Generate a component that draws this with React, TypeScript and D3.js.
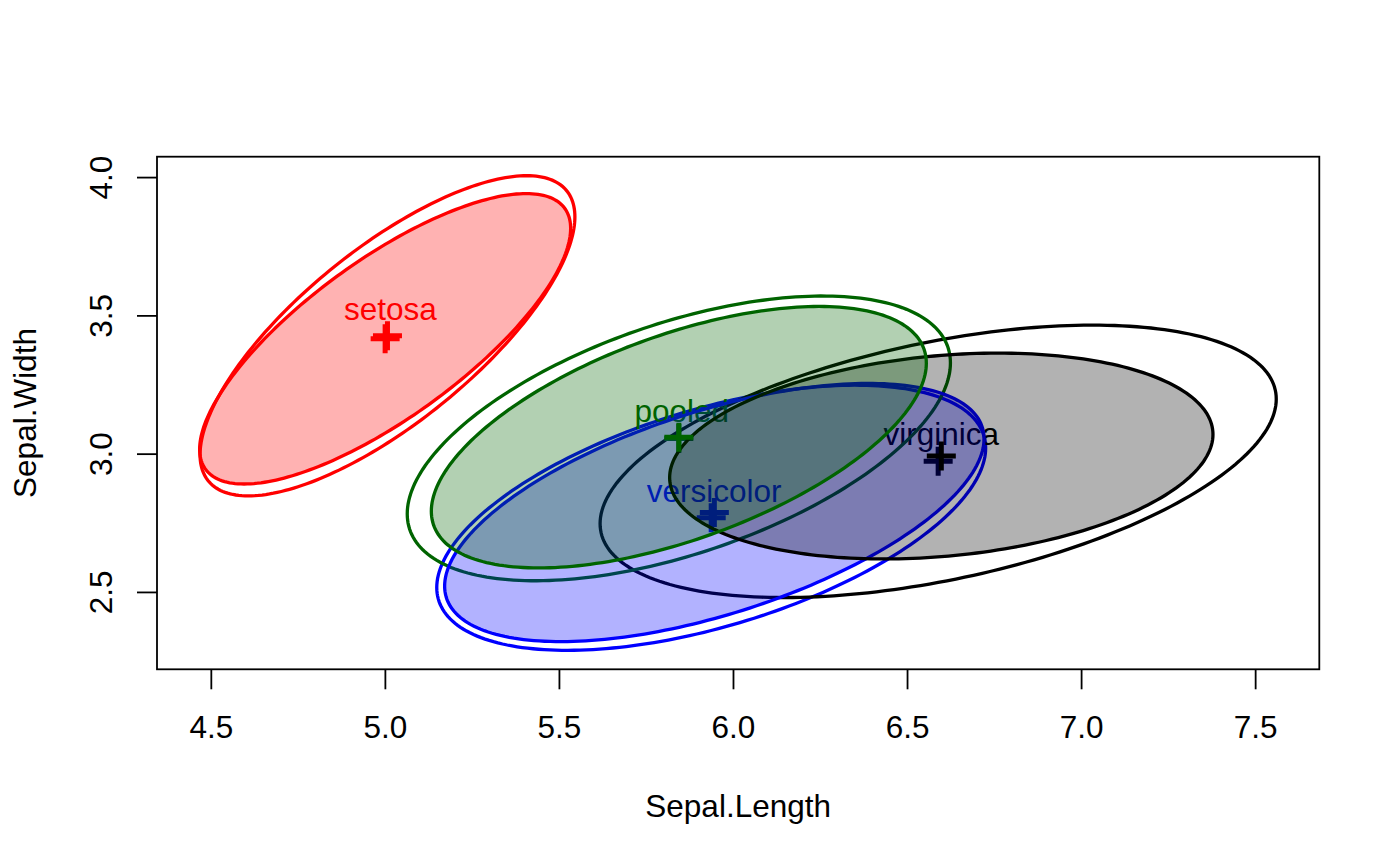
import React from "react";
import * as d3 from "d3";

// ---- data ----
const groups = ["setosa", "versicolor", "virginica", "pooled"];
const groupColors = ["#FF0000", "#0000FF", "#000000", "#006400"];

// classical covariance ellipses (unfilled, outer): centre, semi-extent in x / y, correlation
const classicalCx = [5.006, 5.936, 6.588, 5.843];
const classicalCy = [3.428, 2.77, 2.974, 3.057];
const classicalHalfX = [0.5384, 0.7884, 0.9712, 0.7802];
const classicalHalfY = [0.5789, 0.4793, 0.4925, 0.5148];
const classicalCorr = [0.7426, 0.5259, 0.4572, 0.53];

// robust ellipses (filled, inner)
const robustCx = [4.9993, 5.945, 6.597, 5.843];
const robustCy = [3.4171, 2.789, 2.9932, 3.0613];
const robustHalfX = [0.5329, 0.7748, 0.7804, 0.711];
const robustHalfY = [0.5251, 0.4668, 0.3722, 0.4727];
const robustCorr = [0.76, 0.57, 0.21, 0.566];

const xTicks = [4.5, 5.0, 5.5, 6.0, 6.5, 7.0, 7.5];
const yTicks = [2.5, 3.0, 3.5, 4.0];
const xLabel = "Sepal.Length";
const yLabel = "Sepal.Width";

// ---- layout ----
const W = 1400;
const H = 866;
const left = 157;
const right = 1319.3;
const top = 156.7;
const bottom = 669.3;
const FONT = "'Liberation Sans', Arial, Helvetica, sans-serif";
const FS = 31.5;

function ellipsePts(cx: number, cy: number, a: number, b: number, r: number) {
  const n = 240;
  const s = Math.sqrt(1 - r * r);
  return d3.range(n).map((i) => {
    const t = (i / n) * 2 * Math.PI;
    return [cx + a * Math.cos(t), cy + b * (r * Math.cos(t) + s * Math.sin(t))] as [number, number];
  });
}

export default function App() {
  // limits from classical ellipses with R's 4% expansion
  const xmin = d3.min(classicalCx.map((c, i) => c - classicalHalfX[i]))!;
  const xmax = d3.max(classicalCx.map((c, i) => c + classicalHalfX[i]))!;
  const ymin = d3.min(classicalCy.map((c, i) => c - classicalHalfY[i]))!;
  const ymax = d3.max(classicalCy.map((c, i) => c + classicalHalfY[i]))!;
  const px = (xmax - xmin) * 0.04;
  const py = (ymax - ymin) * 0.04;
  const x = d3.scaleLinear().domain([xmin - px, xmax + px]).range([left, right]);
  const y = d3.scaleLinear().domain([ymin - py, ymax + py]).range([bottom, top]);

  const line = d3
    .line<[number, number]>()
    .x((d) => x(d[0]))
    .y((d) => y(d[1]))
    .curve(d3.curveLinearClosed);

  const plus = (cx: number, cy: number, color: string, key: string) => {
    const X = x(cx);
    const Y = y(cy);
    const h = 14.5;
    return (
      <path
        key={key}
        d={`M${X - h},${Y}H${X + h}M${X},${Y - h}V${Y + h}`}
        stroke={color}
        strokeWidth={5}
        fill="none"
      />
    );
  };

  return (
    <svg
      width={W}
      height={H}
      style={{ position: "absolute", left: 0, top: 0, background: "#fff" }}
      fontFamily={FONT}
    >
      <defs>
        <clipPath id="plotclip">
          <rect x={left} y={top} width={right - left} height={bottom - top} />
        </clipPath>
      </defs>
      <g clipPath="url(#plotclip)">
        {/* classical ellipses, centres, labels */}
        {groups.map((g, i) => (
          <g key={"c" + g}>
            <path
              d={line(ellipsePts(classicalCx[i], classicalCy[i], classicalHalfX[i], classicalHalfY[i], classicalCorr[i]))!}
              fill="none"
              stroke={groupColors[i]}
              strokeWidth={3.3}
            />
            {plus(classicalCx[i], classicalCy[i], groupColors[i], "pc" + g)}
            <text
              x={x(classicalCx[i]) + 3}
              y={y(classicalCy[i]) - 16}
              textAnchor="middle"
              fontSize={FS}
              fill={groupColors[i]}
            >
              {g}
            </text>
          </g>
        ))}
        {/* robust filled ellipses */}
        {groups.map((g, i) => (
          <g key={"r" + g}>
            {plus(robustCx[i], robustCy[i], groupColors[i], "pr" + g)}
            <path
              d={line(ellipsePts(robustCx[i], robustCy[i], robustHalfX[i], robustHalfY[i], robustCorr[i]))!}
              fill={groupColors[i]}
              fillOpacity={0.3}
              stroke={groupColors[i]}
              strokeWidth={3.3}
            />
          </g>
        ))}
      </g>

      {/* frame */}
      <rect x={left} y={top} width={right - left} height={bottom - top} fill="none" stroke="#000" strokeWidth={1.8} />

      {/* x axis */}
      <g>
        {xTicks.map((t) => (
          <g key={"xt" + t}>
            <line x1={x(t)} x2={x(t)} y1={bottom} y2={bottom + 20} stroke="#000" strokeWidth={1.8} />
            <text x={x(t)} y={738} textAnchor="middle" fontSize={FS} fill="#000">
              {t.toFixed(1)}
            </text>
          </g>
        ))}
        <text x={(left + right) / 2} y={816.7} textAnchor="middle" fontSize={FS} fill="#000">
          {xLabel}
        </text>
      </g>

      {/* y axis */}
      <g>
        {yTicks.map((t) => (
          <g key={"yt" + t}>
            <line x1={left} x2={left - 20} y1={y(t)} y2={y(t)} stroke="#000" strokeWidth={1.8} />
            <text
              transform={`translate(112,${y(t)}) rotate(-90)`}
              textAnchor="middle"
              fontSize={FS}
              fill="#000"
            >
              {t.toFixed(1)}
            </text>
          </g>
        ))}
        <text
          transform={`translate(36,${(top + bottom) / 2}) rotate(-90)`}
          textAnchor="middle"
          fontSize={FS}
          fill="#000"
        >
          {yLabel}
        </text>
      </g>
    </svg>
  );
}
